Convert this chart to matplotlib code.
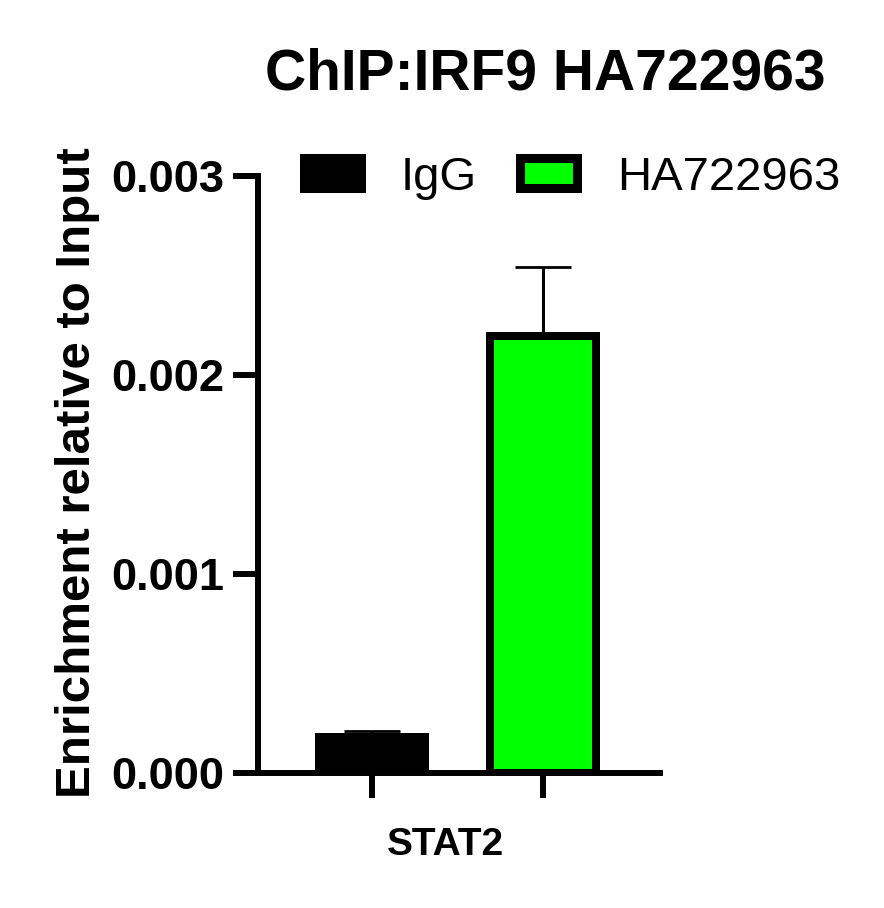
import matplotlib
matplotlib.use("Agg")
import matplotlib.pyplot as plt
from matplotlib.patches import Patch

plt.rcParams['font.family'] = ['Liberation Sans', 'DejaVu Sans']

groups = ["IgG", "HA722963"]
means = [0.000181, 0.002196]
errs = [0.000030, 0.000347]
colors = ["#000000", "#00ff00"]
category = "STAT2"
yticks = [0.000, 0.001, 0.002, 0.003]
ytick_labels = ["0.000", "0.001", "0.002", "0.003"]

W, H = 884, 908
fig = plt.figure(figsize=(W / 100, H / 100), dpi=100)
left, right, top, bottom = 258, 660, 176, 773
ax = fig.add_axes([left / W, (H - bottom) / H, (right - left) / W, (bottom - top) / H])

xpos = list(range(len(groups)))
for x, m, e, c in zip(xpos, means, errs, colors):
    ax.errorbar(x, m, yerr=[[0], [e]], fmt='none', ecolor='black',
                elinewidth=2.2, capsize=20.5, capthick=2.0, zorder=1)
    ax.bar(x, m, width=0.62, color=c, edgecolor='black', linewidth=5.76, zorder=2)

ax.set_xlim(-0.667, 1.684)
ax.set_ylim(0, 0.003)
ax.set_yticks(yticks)
ax.set_yticklabels(ytick_labels, fontsize=32.5, fontweight='bold')
ax.set_xticks(xpos)
ax.set_xticklabels(["", ""])
for s in ['top', 'right']:
    ax.spines[s].set_visible(False)
for s in ['left', 'bottom']:
    ax.spines[s].set_linewidth(4.3)
    ax.spines[s].set_zorder(3)
ax.tick_params(axis='both', length=18, width=4.3, direction='out', pad=6)

fig.text(445 / W, 1 - 845 / H, category, ha='center', va='center',
         fontsize=28, fontweight='bold')
fig.text(78 / W, 1 - 473 / H, "Enrichment relative to Input", rotation=90,
         ha='center', va='center', fontsize=35.5, fontweight='bold')
fig.text(545 / W, 1 - 74 / H, "ChIP:IRF9 HA722963", ha='center', va='center',
         fontsize=41, fontweight='bold')

handles = [Patch(facecolor=c, edgecolor='black', linewidth=6.5) for c in colors]
leg = fig.legend(handles, groups, ncol=2, frameon=False, fontsize=34,
                 loc='center left', bbox_to_anchor=(304 / W, 1 - 178 / H),
                 handlelength=1.2, handleheight=0.6, handletextpad=0.85,
                 columnspacing=0.92, borderpad=0, borderaxespad=0)

fig.savefig("out.png", dpi=100)
